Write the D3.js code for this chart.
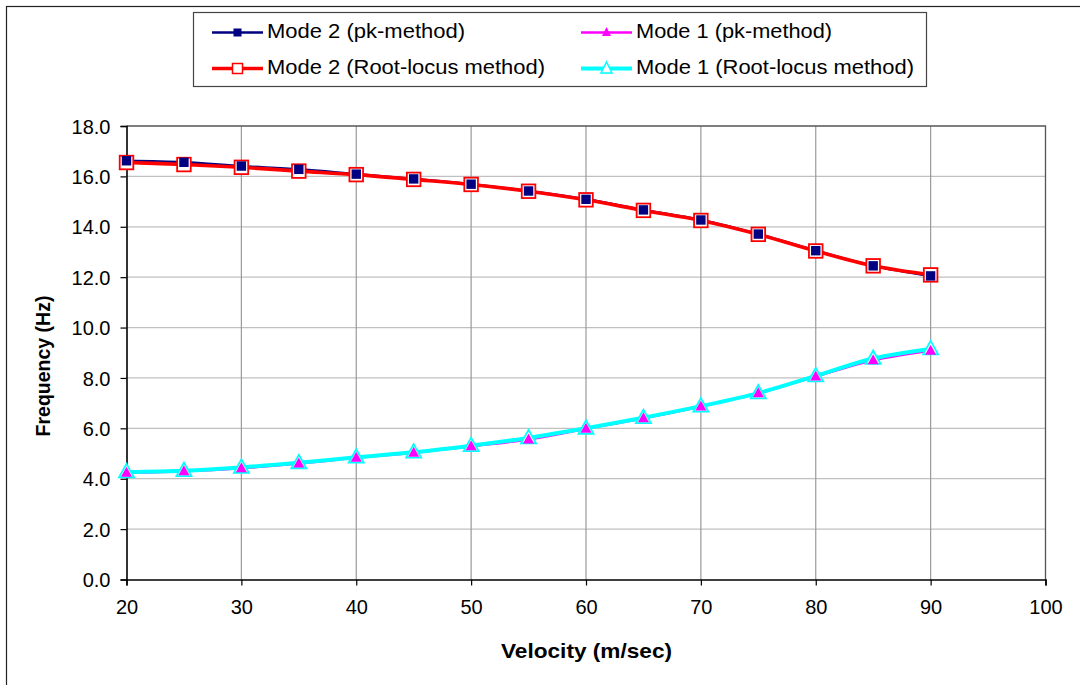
<!DOCTYPE html>
<html>
<head>
<meta charset="utf-8">
<script src="https://cdn.jsdelivr.net/npm/d3@7"></script>
<style>
  html, body { margin: 0; padding: 0; background: #fff; }
  svg { display: block; font-family: "Liberation Sans", Arial, sans-serif; }
</style>
</head>
<body>
<svg id="chart" width="1080" height="685"></svg>
<script>
// ---- Data ----
const velocity = [20, 25, 30, 35, 40, 45, 50, 55, 60, 65, 70, 75, 80, 85, 90];
const mode2Pk = [16.62, 16.56, 16.41, 16.28, 16.09, 15.90, 15.69, 15.42, 15.09, 14.67, 14.27, 13.71, 13.05, 12.45, 12.05];
const mode2RL = [16.55, 16.47, 16.36, 16.21, 16.07, 15.88, 15.68, 15.41, 15.07, 14.65, 14.25, 13.70, 13.04, 12.45, 12.09];
const mode1Pk = [4.24, 4.30, 4.42, 4.60, 4.83, 5.03, 5.29, 5.56, 5.98, 6.40, 6.87, 7.39, 8.06, 8.70, 9.08];
const mode1RL = [4.27, 4.32, 4.45, 4.63, 4.85, 5.05, 5.31, 5.62, 6.00, 6.42, 6.88, 7.40, 8.08, 8.77, 9.15];
const seriesNames = ["Mode 2 (pk-method)", "Mode 1 (pk-method)", "Mode 2 (Root-locus method)", "Mode 1 (Root-locus method)"];
const xTicks = [20, 30, 40, 50, 60, 70, 80, 90, 100];
const yTicks = [0, 2, 4, 6, 8, 10, 12, 14, 16, 18];
const xTitle = "Velocity (m/sec)";
const yTitle = "Frequency (Hz)";

// ---- Layout ----
const svg = d3.select("#chart");
const plot = { left: 126.5, top: 126, right: 1045.5, bottom: 579.5 };

const x = d3.scaleLinear().domain([20, 100]).range([plot.left, plot.right]);
const y = d3.scaleLinear().domain([0, 18]).range([plot.bottom, plot.top]);

// Outer chart border
svg.append("rect").attr("x", 6.5).attr("y", 6.5).attr("width", 1090).attr("height", 700)
  .attr("fill", "#fff").attr("stroke", "#222").attr("stroke-width", 1.2);

// Gridlines
const grid = svg.append("g");
grid.selectAll("line.h").data(yTicks.filter(d => d > 0 && d < 18)).join("line")
  .attr("x1", plot.left).attr("x2", plot.right)
  .attr("y1", d => y(d)).attr("y2", d => y(d))
  .attr("stroke", "#c0c0c0").attr("stroke-width", 1.2);
grid.selectAll("line.v").data(xTicks.filter(d => d > 20 && d < 100)).join("line")
  .attr("y1", plot.top).attr("y2", plot.bottom)
  .attr("x1", d => x(d)).attr("x2", d => x(d))
  .attr("stroke", "#9a9a9a").attr("stroke-width", 1.2);

// Plot frame (top/right)
svg.append("path")
  .attr("d", `M${plot.left},${plot.top}H${plot.right}V${plot.bottom}`)
  .attr("fill", "none").attr("stroke", "#555").attr("stroke-width", 1.3);

// Axes
const fmt = d3.format(".1f");
const yAxis = d3.axisLeft(y).tickValues(yTicks).tickFormat(fmt).tickSize(6).tickPadding(10);
const xAxis = d3.axisBottom(x).tickValues(xTicks).tickFormat(d3.format("d")).tickSize(6).tickPadding(14);

const gy = svg.append("g").attr("transform", `translate(${plot.left},0)`).call(yAxis);
const gx = svg.append("g").attr("transform", `translate(0,${plot.bottom})`).call(xAxis);
[gx, gy].forEach(g => {
  g.select(".domain").attr("stroke", "#000").attr("stroke-width", 1.6);
  g.selectAll(".tick line").attr("stroke", "#000").attr("stroke-width", 1.2);
  g.selectAll(".tick text").attr("fill", "#000").style("font-size", "20px")
    .style("font-family", "'Liberation Sans', Arial, sans-serif");
});
gy.selectAll(".tick text").attr("dy", "0.36em");

// Axis titles
svg.append("text").attr("x", (plot.left + plot.right) / 2 + 0.5).attr("y", 658)
  .attr("text-anchor", "middle").style("font-size", "20.5px").style("font-weight", "bold")
  .attr("textLength", 171).attr("lengthAdjust", "spacingAndGlyphs")
  .text(xTitle);
svg.append("text").attr("transform", "translate(50,366) rotate(-90)")
  .attr("text-anchor", "middle").style("font-size", "19.5px").style("font-weight", "bold")
  .text(yTitle);

// ---- Series ----
const pts = vals => velocity.map((v, i) => [x(v), y(vals[i])]);
const line = d3.line().curve(d3.curveCatmullRom.alpha(0.5));

const seriesDefs = [
  { vals: mode2Pk, color: "#000080", width: 2.5 },
  { vals: mode1Pk, color: "#ff00ff", width: 2.5 },
  { vals: mode2RL, color: "#ff0000", width: 3.6 },
  { vals: mode1RL, color: "#00ffff", width: 4 }
];
const lines = svg.append("g");
seriesDefs.forEach(s => {
  lines.append("path").attr("d", line(pts(s.vals)))
    .attr("fill", "none").attr("stroke", s.color).attr("stroke-width", s.width)
    .attr("stroke-linejoin", "round");
});

const tri = (w, h) => `M0,${-h * 0.6}L${w / 2},${h * 0.4}L${-w / 2},${h * 0.4}Z`;

const markers = svg.append("g");
// Root-locus hollow squares (white fill)
markers.selectAll("rect.rl").data(pts(mode2RL)).join("rect")
  .attr("x", d => d[0] - 6.8).attr("y", d => d[1] - 6.8)
  .attr("width", 13.6).attr("height", 13.6)
  .attr("fill", "#fff").attr("stroke", "#ff0000").attr("stroke-width", 1.8);
// Root-locus hollow triangles
markers.selectAll("path.rl").data(pts(mode1RL)).join("path")
  .attr("transform", d => `translate(${d[0]},${d[1]})`)
  .attr("d", tri(15, 13.5))
  .attr("fill", "#fff").attr("stroke", "#00ffff").attr("stroke-width", 1.8)
  .attr("stroke-linejoin", "miter");
// pk filled squares
markers.selectAll("rect.pk").data(pts(mode2Pk)).join("rect")
  .attr("x", d => d[0] - 4.7).attr("y", d => d[1] - 4.7)
  .attr("width", 9.4).attr("height", 9.4)
  .attr("fill", "#000080");
// pk filled triangles
markers.selectAll("path.pk").data(pts(mode1Pk)).join("path")
  .attr("transform", d => `translate(${d[0]},${d[1]})`)
  .attr("d", tri(11, 10))
  .attr("fill", "#ff00ff");

// ---- Legend ----
const leg = svg.append("g");
leg.append("rect").attr("x", 193.5).attr("y", 12.5).attr("width", 733).attr("height", 74)
  .attr("fill", "#fff").attr("stroke", "#444").attr("stroke-width", 1.2);

const legItems = [
  { name: seriesNames[0], color: "#000080", w: 2.5, col: 0, row: 0, mk: "sqFill", tl: 198 },
  { name: seriesNames[1], color: "#ff00ff", w: 2.5, col: 1, row: 0, mk: "triFill", tl: 196 },
  { name: seriesNames[2], color: "#ff0000", w: 3.6, col: 0, row: 1, mk: "sqHollow", tl: 278 },
  { name: seriesNames[3], color: "#00ffff", w: 4, col: 1, row: 1, mk: "triHollow", tl: 278 }
];
const colX = [212, 581];
const rowY = [32.5, 68.5];
legItems.forEach(it => {
  const x0 = colX[it.col], yc = rowY[it.row];
  const g = leg.append("g");
  g.append("line").attr("x1", x0).attr("x2", x0 + 51).attr("y1", yc).attr("y2", yc)
    .attr("stroke", it.color).attr("stroke-width", it.w);
  const cx = x0 + 25.5;
  if (it.mk === "sqFill") {
    g.append("rect").attr("x", cx - 4).attr("y", yc - 4).attr("width", 8).attr("height", 8).attr("fill", it.color);
  } else if (it.mk === "sqHollow") {
    g.append("rect").attr("x", cx - 5).attr("y", yc - 5).attr("width", 10).attr("height", 10)
      .attr("fill", "#fff").attr("stroke", it.color).attr("stroke-width", 1.5);
  } else if (it.mk === "triFill") {
    g.append("path").attr("transform", `translate(${cx},${yc})`).attr("d", tri(9, 9)).attr("fill", it.color);
  } else {
    g.append("path").attr("transform", `translate(${cx},${yc})`).attr("d", tri(11, 11))
      .attr("fill", "#fff").attr("stroke", it.color).attr("stroke-width", 1.5);
  }
  g.append("text").attr("x", x0 + 55).attr("y", yc + 5.5)
    .style("font-size", "19.5px").attr("fill", "#000")
    .attr("textLength", it.tl).attr("lengthAdjust", "spacingAndGlyphs")
    .text(it.name);
});
</script>
</body>
</html>
